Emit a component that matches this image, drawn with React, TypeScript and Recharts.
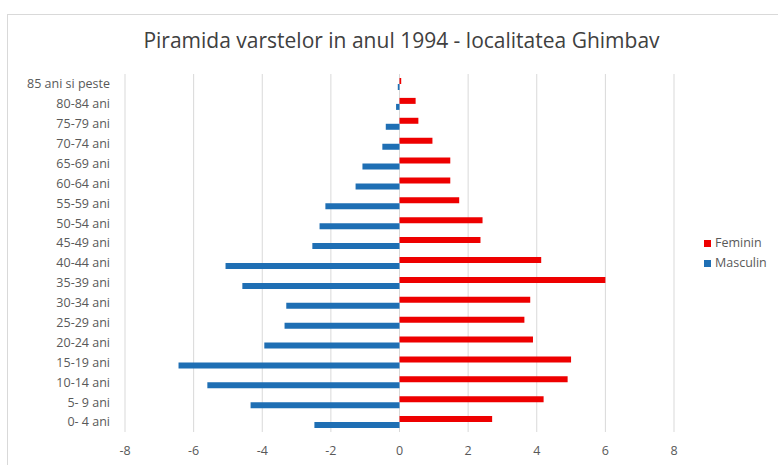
import { BarChart, Bar, XAxis, YAxis, CartesianGrid } from "recharts";

// age groups, top to bottom as drawn
const ageGroups = [
  "85 ani si peste",
  "80-84 ani",
  "75-79 ani",
  "70-74 ani",
  "65-69 ani",
  "60-64 ani",
  "55-59 ani",
  "50-54 ani",
  "45-49 ani",
  "40-44 ani",
  "35-39 ani",
  "30-34 ani",
  "25-29 ani",
  "20-24 ani",
  "15-19 ani",
  "10-14 ani",
  "5- 9 ani",
  "0- 4 ani",
];

const feminin = [0.05, 0.47, 0.55, 0.96, 1.48, 1.48, 1.74, 2.42, 2.36, 4.13, 6.0, 3.81, 3.64, 3.89, 5.0, 4.9, 4.2, 2.7];
const masculin = [-0.05, -0.1, -0.4, -0.5, -1.08, -1.28, -2.16, -2.33, -2.54, -5.07, -4.58, -3.3, -3.35, -3.94, -6.44, -5.6, -4.34, -2.48];

const xTicks = [-8, -6, -4, -2, 0, 2, 4, 6, 8];

const series = [
  { key: "Feminin", color: "#ee0000" },
  { key: "Masculin", color: "#1f6fb4" },
];

const data = ageGroups.map((g, i) => ({ grupa: g, Feminin: feminin[i], Masculin: masculin[i] }));

const FONT = "Open Sans, Liberation Sans, sans-serif";
const GRAY = "#595959";

export default function App() {
  return (
    <div style={{ position: "absolute", left: 0, top: 0, width: 778, height: 465, background: "#fff", overflow: "hidden", fontFamily: FONT }}>
      <div
        style={{
          position: "absolute",
          left: 7,
          top: 14,
          width: 800,
          height: 480,
          border: "1px solid #d9d9d9",
          boxSizing: "border-box",
        }}
      />
      <div
        style={{
          position: "absolute",
          left: 0,
          top: 26,
          width: 803,
          textAlign: "center",
          fontSize: 21,
          color: "#404040",
        }}
      >
        Piramida varstelor in anul 1994 - localitatea Ghimbav
      </div>
      <BarChart
        width={778}
        height={465}
        data={data}
        layout="vertical"
        margin={{ top: 74, right: 104, left: 0, bottom: 0 }}
        barGap={0}
        barCategoryGap="20%"
        style={{ position: "absolute", left: 0, top: 0 }}
      >
        <CartesianGrid horizontal={false} stroke="#d9d9d9" />
        <XAxis
          type="number"
          domain={[-8, 8]}
          ticks={xTicks}
          height={33}
          axisLine={false}
          tickLine={false}
          tickSize={0}
          tickMargin={14}
          tick={{ fill: GRAY, fontSize: 12.5, fontFamily: FONT }}
        />
        <YAxis
          type="category"
          dataKey="grupa"
          width={125}
          axisLine={false}
          tickLine={false}
          tickSize={0}
          tickMargin={15}
          interval={0}
          tick={{ fill: GRAY, fontSize: 12.5, fontFamily: FONT }}
        />
        {series.map((s) => (
          <Bar key={s.key} dataKey={s.key} fill={s.color} barSize={6} isAnimationActive={false} />
        ))}
      </BarChart>
      <div style={{ position: "absolute", left: 704, top: 233, fontSize: 12.5, color: GRAY, lineHeight: "20px" }}>
        {series.map((s) => (
          <div key={s.key} style={{ display: "flex", alignItems: "center" }}>
            <span style={{ width: 7, height: 7, background: s.color, marginRight: 4, display: "inline-block" }} />
            {s.key}
          </div>
        ))}
      </div>
    </div>
  );
}
